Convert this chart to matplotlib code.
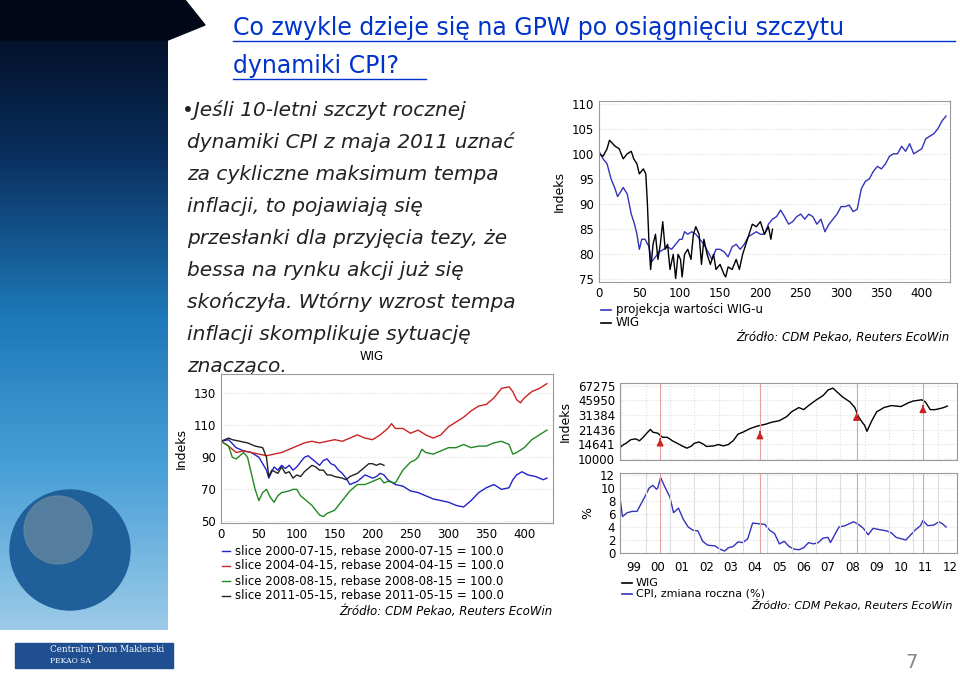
import matplotlib
matplotlib.use("Agg")
import matplotlib.pyplot as plt
import numpy as np
from matplotlib.patches import Rectangle, Circle, Polygon

# ---------------- data ----------------
top_wig_x = [0,5,10,13,20,25,30,35,40,43,47,50,55,58,60,62,64,67,70,73,76,79,82,85,88,92,95,98,101,103,106,110,114,117,120,124,127,130,134,138,142,145,150,155,157,160,165,170,174,178,182,186,190,195,200,205,210,213,215]
top_wig_y = [100,99.5,101,102.7,101.5,101,99,100,100.5,99,98,96,97,96,90,82,77,82,84,79,82,86.5,81,82,77,80,75.2,80,79,75.5,80,81,79,84,85.5,84,78,83,80,78,80,77,78,76,75.5,77.5,77,79,77,80,82,84,86,85.5,86.5,84,85.5,83,85]
top_proj_x = [0,5,10,15,20,23,27,30,35,40,44,47,50,53,57,62,65,70,75,80,85,90,95,100,103,106,110,115,120,125,130,135,140,145,150,155,160,165,170,175,180,185,190,195,200,205,210,215,220,225,230,235,240,245,250,255,260,265,270,275,280,285,290,295,300,305,310,315,320,325,330,335,340,345,350,355,360,365,370,375,380,385,390,395,400,405,410,415,420,425,430]
top_proj_y = [100.5,99,98,95,93,91.5,92.5,93.3,92,88,86,84,81,83,83,81.5,78.5,79.5,80.5,81,81.5,81,82,83,83,84.5,84,84.5,84,83,82,80.5,79,81,81,80.5,79.5,81.5,82,81,82,83.5,84,84.5,84,84,86,87,87.5,88.8,87.5,86,86.5,87.5,88,87,88,87.5,86,87,84.5,86,87,88,89.5,89.5,89.8,88.5,89,93,94.5,95,96.5,97.5,97,98,99.5,100,100,101.5,100.5,102,100,100.5,101,103,103.5,104,105,106.5,107.5]

s2000_x = [0,10,20,30,40,50,55,60,63,66,70,75,80,85,90,95,100,105,110,115,120,125,130,135,140,145,150,155,160,165,170,175,180,185,190,195,200,205,210,215,220,230,240,250,260,270,280,290,300,310,320,330,340,350,360,370,380,385,390,397,405,415,425,430]
s2000_y = [100,101,96,94,93,90,86,82,77,80,84,82,85,83,85,82,84,87,90,91,89,87,85,88,89,86,85,82,80,77,73,74,75,77,79,78,77,78,80,79,76,73,72,69,68,66,64,63,62,60,59,63,68,71,73,70,71,76,79,81,79,78,76,77]
s2004_x = [0,10,20,30,40,50,60,70,80,90,100,110,120,130,140,150,160,170,180,190,200,210,220,225,230,240,250,260,270,280,290,300,310,320,330,340,350,360,370,380,385,390,395,400,410,420,430]
s2004_y = [100,97,93,94,93,92,91,92,93,95,97,99,100,99,100,101,100,102,104,102,101,104,108,111,108,108,105,107,104,102,104,109,112,115,119,122,123,127,133,134,131,126,124,127,131,133,136]
s2008_x = [0,10,15,20,25,30,35,40,45,50,55,60,65,70,75,80,90,95,100,105,110,115,120,125,130,135,140,150,160,170,180,190,200,210,215,220,230,240,250,255,260,265,270,280,290,300,310,320,330,340,350,360,370,380,385,390,400,410,420,430]
s2008_y = [100,97,90,89,91,93,90,80,70,63,68,70,65,62,66,68,69,70,70,66,64,62,60,57,54,53,55,57,63,69,73,73,75,77,74,75,74,82,87,88,90,95,93,92,94,96,96,98,96,97,97,99,100,98,92,93,96,101,104,107]
s2011_x = [0,10,15,25,35,45,55,60,63,67,75,80,85,90,95,100,105,110,115,120,125,130,135,140,145,150,160,165,170,175,180,185,190,195,200,205,210,215]
s2011_y = [100,102,101,100,99,97,96,90,78,82,80,84,80,81,77,79,78,81,83,85,84,82,82,79,79,78,77,76,78,79,80,82,84,86,86,85,86,85]

wig_t = [1998.95,1999.1,1999.2,1999.4,1999.6,1999.75,1999.9,2000.05,2000.2,2000.3,2000.5,2000.7,2000.9,2001.1,2001.3,2001.5,2001.7,2001.9,2002.0,2002.2,2002.4,2002.5,2002.8,2003.0,2003.2,2003.4,2003.6,2003.8,2004.0,2004.3,2004.6,2004.9,2005.2,2005.5,2005.8,2006.0,2006.3,2006.5,2006.7,2007.0,2007.3,2007.5,2007.7,2007.9,2008.1,2008.4,2008.6,2008.75,2008.9,2009.0,2009.1,2009.3,2009.5,2009.8,2010.1,2010.5,2010.8,2011.0,2011.35,2011.5,2011.7,2011.9,2012.1,2012.25,2012.4]
wig_v = [13500,14500,15000,16500,16800,16000,17500,19500,21500,20000,19500,17500,17500,16000,15000,14000,13200,14000,15000,15500,14500,13800,14000,14500,14000,14500,16000,19000,20000,22000,23500,24500,26000,27000,30000,34000,38000,36000,40000,46000,52000,60000,63000,56000,50000,44000,38000,30000,26000,24000,20500,27000,34000,38000,40000,39000,43000,45000,46500,44000,36000,36000,37000,38000,39500]
cpi_t = [1998.95,1999.05,1999.25,1999.45,1999.65,1999.95,2000.15,2000.3,2000.45,2000.5,2000.62,2000.75,2001.0,2001.15,2001.35,2001.55,2001.75,2001.95,2002.15,2002.35,2002.55,2002.85,2003.05,2003.25,2003.4,2003.6,2003.8,2004.0,2004.2,2004.4,2004.65,2004.9,2005.1,2005.3,2005.5,2005.7,2005.9,2006.1,2006.3,2006.5,2006.7,2006.9,2007.1,2007.3,2007.5,2007.6,2007.8,2007.95,2008.2,2008.55,2008.75,2008.95,2009.15,2009.35,2009.6,2009.9,2010.1,2010.3,2010.5,2010.7,2010.9,2011.1,2011.3,2011.4,2011.6,2011.85,2012.05,2012.2,2012.35]
cpi_v = [8.5,5.6,6.2,6.4,6.4,8.5,10.0,10.4,9.8,10.0,11.6,10.5,8.6,6.2,6.9,5.2,4.0,3.5,3.4,1.8,1.2,1.1,0.6,0.3,0.8,1.0,1.7,1.6,2.2,4.6,4.5,4.4,3.5,3.0,1.4,1.8,1.0,0.6,0.5,0.8,1.6,1.4,1.6,2.3,2.4,1.6,3.0,4.0,4.2,4.8,4.4,3.8,2.8,3.8,3.6,3.4,3.1,2.4,2.2,2.0,2.8,3.6,4.2,5.0,4.2,4.3,4.8,4.5,4.0]
peaks = [2000.6, 2004.7, 2008.67, 2011.4]
years = list(range(1999, 2013))
year_labels = ["99","00","01","02","03","04","05","06","07","08","09","10","11","12"]
wig_ticks = [10000,14641,21436,31384,45950,67275]

BLUE = "#3333bb"
fig = plt.figure(figsize=(9.6, 6.95), dpi=100)
W, H = 960, 695
def ax_px(x0, y0, x1, y1):
    return fig.add_axes([x0/W, 1-y1/H, (x1-x0)/W, (y1-y0)/H])

bg = fig.add_axes([0,0,1,1]); bg.set_xlim(0,W); bg.set_ylim(H,0); bg.axis("off")
grad = np.linspace(0,1,256)[:,None]
cmap = matplotlib.colors.LinearSegmentedColormap.from_list("g",["#020818","#0a3060","#1d78b8","#4aa0d8","#9ccbe8"])
bg.imshow(grad, extent=(0,168,630,0), cmap=cmap, aspect="auto", zorder=0)
bg.add_patch(Polygon([[0,0],[185,0],[205,25],[168,40],[0,40]],color="#020818",zorder=0.5))
bg.add_patch(Circle((70,550),60,color="#1f5f9a",zorder=1))
bg.add_patch(Circle((58,530),34,color="#6b8aa0",alpha=0.7,zorder=1.1))
bg.add_patch(Rectangle((15,643),158,25,color="#1f4f90",zorder=2))
bg.text(50,650,"Centralny Dom Maklerski",color="white",fontsize=6.3,family="DejaVu Serif",va="center",zorder=3)
bg.text(50,661,"PEKAO SA",color="white",fontsize=5.5,family="DejaVu Serif",va="center",zorder=3)
bg.set_xlim(0,W); bg.set_ylim(H,0)
bg.text(912,662,"7",color="#888888",fontsize=14,ha="center",va="center")
bg.text(233,28,"Co zwykle dzieje się na GPW po osiągnięciu szczytu",color="#0033cc",fontsize=17,va="center")
bg.text(233,66,"dynamiki CPI?",color="#0033cc",fontsize=17,va="center")
bg.plot([233,955],[41,41],color="#0033cc",lw=1); bg.plot([233,426],[79,79],color="#0033cc",lw=1)
body = ["•Jeśli 10-letni szczyt rocznej","dynamiki CPI z maja 2011 uznać","za cykliczne maksimum tempa",
        "inflacji, to pojawiają się","przesłanki dla przyjęcia tezy, że","bessa na rynku akcji już się",
        "skończyła. Wtórny wzrost tempa","inflacji skomplikuje sytuację","znacząco."]
for i, t in enumerate(body):
    bg.text(182 if i == 0 else 187,110+32*i,t,fontsize=14.5,fontstyle="italic",color="#222222",va="center")

def style(ax):
    for s in ax.spines.values(): s.set_color("#999999"); s.set_linewidth(0.8)
    ax.tick_params(length=0, labelsize=8.5)
    ax.grid(axis="y", color="#dddddd", ls=":", lw=0.8)

a1 = ax_px(599,101,950,282)
a1.plot(top_proj_x, top_proj_y, color=BLUE, lw=1)
a1.plot(top_wig_x, top_wig_y, color="black", lw=1)
a1.set_xlim(0,435); a1.set_ylim(74.5,110.5)
a1.set_yticks(range(75,111,5)); a1.set_xticks(range(0,401,50))
a1.set_ylabel("Indeks", fontsize=9); style(a1)
for i,(t,c) in enumerate([("projekcja wartości WIG-u",BLUE),("WIG","black")]):
    bg.plot([601,611],[310+13*i]*2,color=c,lw=1.2)
    bg.text(616,310+13*i,t,fontsize=8.5,va="center")
bg.text(950,338,"Źródło: CDM Pekao, Reuters EcoWin",fontsize=8.5,fontstyle="italic",ha="right",va="center")

a2 = ax_px(221,374,553,523)
bg.text(372,356,"WIG",fontsize=8.5,ha="center",va="center")
for x,y,c in [(s2000_x,s2000_y,"#2222cc"),(s2004_x,s2004_y,"#cc2222"),(s2008_x,s2008_y,"#228822"),(s2011_x,s2011_y,"#222222")]:
    a2.plot(x,y,color=c,lw=1)
a2.set_xlim(0,438); a2.set_ylim(49,142)
a2.set_yticks([50,70,90,110,130]); a2.set_xticks(range(0,401,50))
a2.set_ylabel("Indeks", fontsize=9); style(a2)
labs = ["slice 2000-07-15, rebase 2000-07-15 = 100.0","slice 2004-04-15, rebase 2004-04-15 = 100.0",
        "slice 2008-08-15, rebase 2008-08-15 = 100.0","slice 2011-05-15, rebase 2011-05-15 = 100.0"]
for i,(t,c) in enumerate(zip(labs,["#2222cc","#cc2222","#228822","#222222"])):
    bg.plot([222,230],[551+15*i]*2,color=c,lw=1)
    bg.text(235,551+15*i,t,fontsize=8.5,va="center")
bg.text(553,611,"Źródło: CDM Pekao, Reuters EcoWin",fontsize=8.5,fontstyle="italic",ha="right",va="center")

XL = (1998.95, 2012.8)
a3 = ax_px(620,383,957,460)
a3.plot(wig_t, wig_v, color="black", lw=1)
a3.set_yscale("log"); a3.set_ylim(9700,72000); a3.set_xlim(*XL)
a3.set_yticks(wig_ticks); a3.set_yticklabels([str(v) for v in wig_ticks]); a3.minorticks_off()
a3.set_xticks(years); a3.set_xticklabels([])
a3.set_ylabel("Indeks", fontsize=9); style(a3); a3.grid(axis="x", color="#dddddd", ls=":", lw=0.8)
a4 = ax_px(620,473,957,553)
a4.plot(cpi_t, cpi_v, color=BLUE, lw=1)
a4.set_xlim(*XL); a4.set_ylim(0,12.3)
a4.set_yticks(range(0,13,2)); a4.set_xticks([y+0.5 for y in years])
a4.set_xticklabels(year_labels)
a4.tick_params(axis="x", pad=6)
a4.set_ylabel("%", fontsize=9); style(a4)
for y in years[1:]: a4.axvline(y, color="#dddddd", lw=0.8)
for p in peaks:
    for a in (a3, a4): a.axvline(p, color="#e8a0a0", lw=0.8)
    v = wig_v[min(range(len(wig_t)), key=lambda i: abs(wig_t[i]-p))]
    a3.annotate("", xy=(p, v*0.93), xytext=(p, v*0.8),
                arrowprops=dict(arrowstyle="-|>", color="#cc2222", lw=1))
for i,(t,c) in enumerate([("WIG","black"),("CPI, zmiana roczna (%)",BLUE)]):
    bg.plot([622,632],[583+11*i]*2,color=c,lw=1.2)
    bg.text(636,583+11*i,t,fontsize=8,va="center")
bg.text(953,605,"Źródło: CDM Pekao, Reuters EcoWin",fontsize=8,fontstyle="italic",ha="right",va="center")

fig.savefig("out.png", dpi=100)
